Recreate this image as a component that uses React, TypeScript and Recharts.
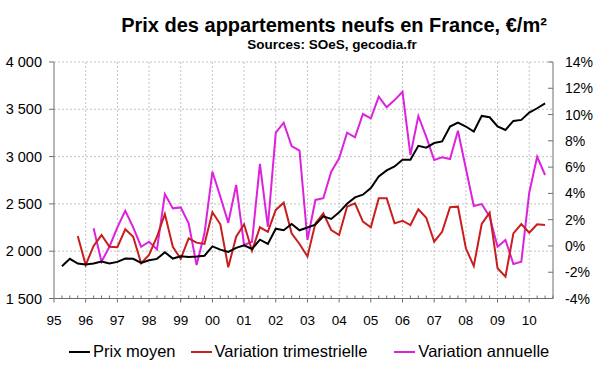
import React from 'react';
import { LineChart, Line, XAxis, YAxis, CartesianGrid, Legend } from 'recharts';

// Quarter positions (year fractions)
const quarters: number[] = [
  1995.25, 1995.5, 1995.75,
  1996, 1996.25, 1996.5, 1996.75,
  1997, 1997.25, 1997.5, 1997.75,
  1998, 1998.25, 1998.5, 1998.75,
  1999, 1999.25, 1999.5, 1999.75,
  2000, 2000.25, 2000.5, 2000.75,
  2001, 2001.25, 2001.5, 2001.75,
  2002, 2002.25, 2002.5, 2002.75,
  2003, 2003.25, 2003.5, 2003.75,
  2004, 2004.25, 2004.5, 2004.75,
  2005, 2005.25, 2005.5, 2005.75,
  2006, 2006.25, 2006.5, 2006.75,
  2007, 2007.25, 2007.5, 2007.75,
  2008, 2008.25, 2008.5, 2008.75,
  2009, 2009.25, 2009.5, 2009.75,
  2010, 2010.25, 2010.5,
];

// Prix moyen, €/m² (left axis)
const prixMoyen: number[] = [
  1841, 1919, 1869,
  1859, 1869, 1890, 1869,
  1887, 1922, 1919, 1876,
  1904, 1919, 1989, 1922,
  1946, 1940, 1945, 1952,
  2051, 2017, 1993, 2035,
  2063, 2024, 2122, 2077,
  2238, 2221, 2288, 2221,
  2250, 2281, 2369, 2341,
  2411, 2502, 2569, 2597,
  2668, 2790, 2854, 2896,
  2966, 2966, 3114, 3095,
  3143, 3160, 3318, 3360,
  3318, 3265, 3430, 3416,
  3318, 3282, 3377, 3388,
  3465, 3511, 3563,
];

// Variation trimestrielle, % (right axis)
const variationTrimestrielle: (number | null)[] = [
  null, null, 0.76,
  -1.45, 0.0, 0.83, -0.06,
  -0.1, 1.27, 0.7, -1.32,
  -0.69, 0.7, 2.43, -0.06,
  -0.98, 0.58, 0.25, 0.15,
  2.56, 1.65, -1.63, 0.7,
  1.65, -0.36, 1.42, 1.08,
  2.74, 3.29, 0.96, 0.15,
  -0.8, 1.72, 2.48, 1.21,
  0.83, 2.99, 3.24, 1.85,
  1.42, 3.63, 3.63, 1.72,
  1.92, 1.59, 2.79, 2.15,
  0.32, 1.08, 2.94, 2.99,
  -0.18, -1.53, 1.67, 2.53,
  -1.7, -2.34, 0.96, 1.67,
  1.01, 1.65, 1.59,
];

// Variation annuelle, % (right axis)
const variationAnnuelle: (number | null)[] = [
  null, null, null,
  null, 1.34, -1.2, -0.06,
  1.42, 2.68, 1.42, -0.06,
  0.32, -0.26, 3.95, 2.86,
  2.93, 1.72, -1.45, 0.96,
  5.65, 3.75, 1.77, 4.64,
  0.07, 0.32, 6.24, 1.46,
  8.62, 9.38, 7.6, 7.25,
  0.45, 3.5, 3.63, 5.65,
  6.67, 8.62, 8.27, 10.04,
  9.71, 11.36, 10.55, 11.1,
  11.74, 6.92, 9.89, 8.3,
  6.54, 6.74, 6.62, 8.77,
  5.9, 3.04, 3.19, 2.23,
  -0.06, 0.45, -1.37, -1.2,
  4.05, 6.79, 5.4,
];

const yearTicks: number[] = [1995, 1996, 1997, 1998, 1999, 2000, 2001, 2002, 2003, 2004, 2005, 2006, 2007, 2008, 2009, 2010];
const yearLabels: string[] = ['95', '96', '97', '98', '99', '00', '01', '02', '03', '04', '05', '06', '07', '08', '09', '10'];
const leftTicks: number[] = [1500, 2000, 2500, 3000, 3500, 4000];
const rightTicks: number[] = [-4, -2, 0, 2, 4, 6, 8, 10, 12, 14];

const seriesNames = ['Prix moyen', 'Variation trimestrielle', 'Variation annuelle'];
const seriesColors = ['#000000', '#c81e1e', '#dc22dc'];

const data = quarters.map((t, i) => ({
  t,
  prix: prixMoyen[i],
  trim: variationTrimestrielle[i],
  ann: variationAnnuelle[i],
}));

// quarterly tick positions over the axis range
const xTicks: number[] = [];
yearTicks.forEach((y) => {
  xTicks.push(y, y + 0.25, y + 0.5, y + 0.75);
});

const FONT = '"Liberation Sans", Arial, sans-serif';
const AXIS = '#6e6e6e';

const XTick = (props: any) => {
  const { x, y, payload } = props;
  const v = payload.value as number;
  const idx = yearTicks.indexOf(v);
  if (idx >= 0) {
    return (
      <g>
        <line x1={x} x2={x} y1={y} y2={y + 4} stroke={AXIS} strokeWidth={1} />
        <text x={x} y={y + 26} textAnchor="middle" fontSize={13.5} fontFamily={FONT} fill="#000">
          {yearLabels[idx]}
        </text>
      </g>
    );
  }
  return <line x1={x} x2={x} y1={y - 3} y2={y} stroke={AXIS} strokeWidth={1} />;
};

const RightTick = (props: any) => {
  const { x, y, payload } = props;
  return (
    <g>
      <line x1={x - 5} x2={x} y1={y} y2={y} stroke={AXIS} strokeWidth={1} />
      <text x={x + 12} y={y} dy="0.36em" textAnchor="start" fontSize={14} fontFamily={FONT} fill="#000">
        {`${payload.value}%`}
      </text>
    </g>
  );
};

const formatLeft = (v: number) => {
  const th = Math.floor(v / 1000);
  const rest = String(v % 1000).padStart(3, '0');
  return `${th} ${rest}`;
};

const legendGaps = [15, 27, 0];

const LegendContent = () => (
  <div
    style={{
      display: 'flex',
      flexDirection: 'row',
      alignItems: 'center',
      paddingLeft: 69,
      fontFamily: FONT,
      fontSize: 16.5,
      color: '#000',
      whiteSpace: 'nowrap',
    }}
  >
    {seriesNames.map((name, i) => (
      <div key={name} style={{ display: 'flex', alignItems: 'center', marginRight: legendGaps[i] }}>
        <svg width={21} height={4} style={{ marginRight: 3 }}>
          <line x1={0} x2={21} y1={2} y2={2} stroke={seriesColors[i]} strokeWidth={2} />
        </svg>
        <span>{name}</span>
      </div>
    ))}
  </div>
);

export default function App() {
  return (
    <div style={{ position: 'absolute', left: 0, top: 0, width: 600, height: 372, background: '#fff', fontFamily: FONT }}>
      <div
        style={{
          position: 'absolute',
          left: 334,
          top: 15,
          transform: 'translateX(-50%)',
          fontSize: 20,
          lineHeight: '20px',
          fontWeight: 'bold',
          whiteSpace: 'nowrap',
          color: '#000',
        }}
      >
        Prix des appartements neufs en France, €/m²
      </div>
      <div
        style={{
          position: 'absolute',
          left: 332,
          top: 38,
          transform: 'translateX(-50%)',
          fontSize: 13.5,
          lineHeight: '13.5px',
          fontWeight: 'bold',
          whiteSpace: 'nowrap',
          color: '#000',
        }}
      >
        Sources: SOeS, gecodia.fr
      </div>
      <LineChart width={600} height={372} data={data} margin={{ top: 62, right: 0, bottom: 43.5, left: 0 }}>
        <CartesianGrid
          yAxisId="left"
          stroke="#c4c4c4"
          strokeDasharray="2 2"
          verticalValues={yearTicks.slice(1)}
          horizontalValues={leftTicks.slice(1)}
        />
        <XAxis
          dataKey="t"
          type="number"
          domain={[1995, 2010.75]}
          ticks={xTicks}
          interval={0}
          tick={<XTick />}
          tickLine={false}
          tickSize={0}
          tickMargin={0}
          height={30}
          axisLine={{ stroke: AXIS }}
          allowDataOverflow
        />
        <YAxis
          yAxisId="left"
          width={54}
          domain={[1500, 4000]}
          ticks={leftTicks}
          interval={0}
          tickFormatter={formatLeft}
          tick={{ fontSize: 14.5, fontFamily: FONT, fill: '#000' }}
          tickSize={5}
          tickMargin={7}
          tickLine={{ stroke: AXIS }}
          axisLine={{ stroke: AXIS }}
          allowDataOverflow
        />
        <YAxis
          yAxisId="right"
          orientation="right"
          width={47}
          domain={[-4, 14]}
          ticks={rightTicks}
          interval={0}
          tick={<RightTick />}
          tickLine={false}
          tickSize={0}
          tickMargin={0}
          axisLine={{ stroke: AXIS }}
          allowDataOverflow
        />
        <Legend
          verticalAlign="middle"
          layout="horizontal"
          content={<LegendContent />}
          wrapperStyle={{ top: 342, left: 0, width: 600, height: 22 }}
        />
        <Line
          yAxisId="right"
          dataKey="ann"
          name="Variation annuelle"
          stroke={seriesColors[2]}
          strokeWidth={2}
          dot={false}
          activeDot={false}
          isAnimationActive={false}
        />
        <Line
          yAxisId="right"
          dataKey="trim"
          name="Variation trimestrielle"
          stroke={seriesColors[1]}
          strokeWidth={2}
          dot={false}
          activeDot={false}
          isAnimationActive={false}
        />
        <Line
          yAxisId="left"
          dataKey="prix"
          name="Prix moyen"
          stroke={seriesColors[0]}
          strokeWidth={2}
          dot={false}
          activeDot={false}
          isAnimationActive={false}
        />
      </LineChart>
    </div>
  );
}
